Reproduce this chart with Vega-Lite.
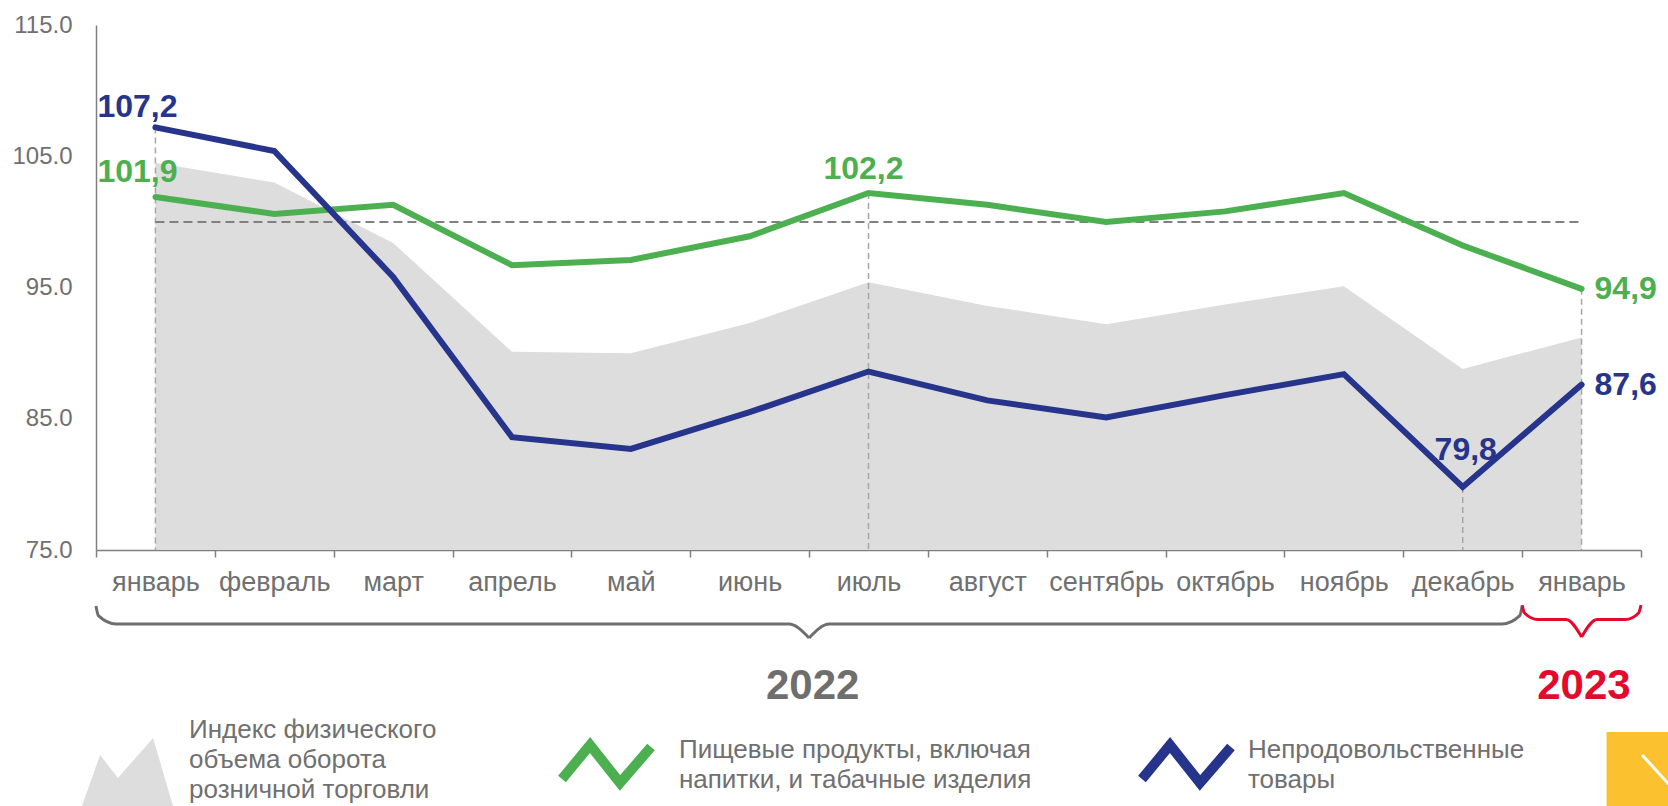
{
  "$schema": "https://vega.github.io/schema/vega-lite/v6.json",
  "width": 1545,
  "height": 525,
  "autosize": {"type": "none"},
  "padding": {"left": 96, "top": 25, "right": 27, "bottom": 256},
  "background": "white",
  "config": {
    "font": "Liberation Sans",
    "view": {"stroke": null},
    "axis": {"grid": false, "title": null, "domainColor": "#7f7f7f", "tickColor": "#7f7f7f", "labelColor": "#707070", "labelFont": "Liberation Sans", "domainWidth": 1.5, "tickWidth": 1.5}
  },
  "datasets": {
    "idx": [
      {"m": "январь 2022", "s": "Индекс физического объема оборота розничной торговли", "v": 104.5},
      {"m": "февраль 2022", "s": "Индекс физического объема оборота розничной торговли", "v": 103.0},
      {"m": "март 2022", "s": "Индекс физического объема оборота розничной торговли", "v": 98.4},
      {"m": "апрель 2022", "s": "Индекс физического объема оборота розничной торговли", "v": 90.1},
      {"m": "май 2022", "s": "Индекс физического объема оборота розничной торговли", "v": 90.0},
      {"m": "июнь 2022", "s": "Индекс физического объема оборота розничной торговли", "v": 92.3},
      {"m": "июль 2022", "s": "Индекс физического объема оборота розничной торговли", "v": 95.4},
      {"m": "август 2022", "s": "Индекс физического объема оборота розничной торговли", "v": 93.6},
      {"m": "сентябрь 2022", "s": "Индекс физического объема оборота розничной торговли", "v": 92.2},
      {"m": "октябрь 2022", "s": "Индекс физического объема оборота розничной торговли", "v": 93.7},
      {"m": "ноябрь 2022", "s": "Индекс физического объема оборота розничной торговли", "v": 95.1},
      {"m": "декабрь 2022", "s": "Индекс физического объема оборота розничной торговли", "v": 88.8},
      {"m": "январь 2023", "s": "Индекс физического объема оборота розничной торговли", "v": 91.2},
      {"m": "январь 2022", "s": "Пищевые продукты, включая напитки, и табачные изделия", "v": 101.9},
      {"m": "февраль 2022", "s": "Пищевые продукты, включая напитки, и табачные изделия", "v": 100.6},
      {"m": "март 2022", "s": "Пищевые продукты, включая напитки, и табачные изделия", "v": 101.3},
      {"m": "апрель 2022", "s": "Пищевые продукты, включая напитки, и табачные изделия", "v": 96.7},
      {"m": "май 2022", "s": "Пищевые продукты, включая напитки, и табачные изделия", "v": 97.1},
      {"m": "июнь 2022", "s": "Пищевые продукты, включая напитки, и табачные изделия", "v": 98.9},
      {"m": "июль 2022", "s": "Пищевые продукты, включая напитки, и табачные изделия", "v": 102.2},
      {"m": "август 2022", "s": "Пищевые продукты, включая напитки, и табачные изделия", "v": 101.3},
      {"m": "сентябрь 2022", "s": "Пищевые продукты, включая напитки, и табачные изделия", "v": 100.0},
      {"m": "октябрь 2022", "s": "Пищевые продукты, включая напитки, и табачные изделия", "v": 100.8},
      {"m": "ноябрь 2022", "s": "Пищевые продукты, включая напитки, и табачные изделия", "v": 102.2},
      {"m": "декабрь 2022", "s": "Пищевые продукты, включая напитки, и табачные изделия", "v": 98.2},
      {"m": "январь 2023", "s": "Пищевые продукты, включая напитки, и табачные изделия", "v": 94.9},
      {"m": "январь 2022", "s": "Непродовольственные товары", "v": 107.2},
      {"m": "февраль 2022", "s": "Непродовольственные товары", "v": 105.4},
      {"m": "март 2022", "s": "Непродовольственные товары", "v": 95.8},
      {"m": "апрель 2022", "s": "Непродовольственные товары", "v": 83.6},
      {"m": "май 2022", "s": "Непродовольственные товары", "v": 82.7},
      {"m": "июнь 2022", "s": "Непродовольственные товары", "v": 85.5},
      {"m": "июль 2022", "s": "Непродовольственные товары", "v": 88.6},
      {"m": "август 2022", "s": "Непродовольственные товары", "v": 86.4},
      {"m": "сентябрь 2022", "s": "Непродовольственные товары", "v": 85.1},
      {"m": "октябрь 2022", "s": "Непродовольственные товары", "v": 86.8},
      {"m": "ноябрь 2022", "s": "Непродовольственные товары", "v": 88.4},
      {"m": "декабрь 2022", "s": "Непродовольственные товары", "v": 79.8},
      {"m": "январь 2023", "s": "Непродовольственные товары", "v": 87.6}
    ],
    "ref": [
      {"m": "январь 2022", "r": 100},
      {"m": "январь 2023", "r": 100}
    ],
    "brace": [
      {"year": "2022", "part": "2022L", "x": 0, "y": 70.73},
      {"year": "2022", "part": "2022L", "x": 0.02, "y": 70.0},
      {"year": "2022", "part": "2022L", "x": 0.17, "y": 69.36},
      {"year": "2022", "part": "2022L", "x": 5.83, "y": 69.36},
      {"year": "2022", "part": "2022L", "x": 6.0, "y": 68.3},
      {"year": "2022", "part": "2022R", "x": 6.0, "y": 68.3},
      {"year": "2022", "part": "2022R", "x": 6.17, "y": 69.36},
      {"year": "2022", "part": "2022R", "x": 11.83, "y": 69.36},
      {"year": "2022", "part": "2022R", "x": 11.98, "y": 70.0},
      {"year": "2022", "part": "2022R", "x": 12.0, "y": 70.73},
      {"year": "2023", "part": "2023L", "x": 12.0, "y": 70.8},
      {"year": "2023", "part": "2023L", "x": 12.02, "y": 70.2},
      {"year": "2023", "part": "2023L", "x": 12.13, "y": 69.7},
      {"year": "2023", "part": "2023L", "x": 12.37, "y": 69.7},
      {"year": "2023", "part": "2023L", "x": 12.5, "y": 68.37},
      {"year": "2023", "part": "2023R", "x": 12.5, "y": 68.37},
      {"year": "2023", "part": "2023R", "x": 12.63, "y": 69.7},
      {"year": "2023", "part": "2023R", "x": 12.87, "y": 69.7},
      {"year": "2023", "part": "2023R", "x": 12.98, "y": 70.2},
      {"year": "2023", "part": "2023R", "x": 13.0, "y": 70.8}
    ],
    "years": [
      {"year": "2022", "x": 6.03, "y": 63.65},
      {"year": "2023", "x": 12.52, "y": 63.65}
    ],
    "legendIcons": [
      {"s": "Индекс физического объема оборота розничной торговли", "x": -0.118, "y": 55.5},
      {"s": "Индекс физического объема оборота розничной торговли", "x": 0.034, "y": 59.38},
      {"s": "Индекс физического объема оборота розничной торговли", "x": 0.185, "y": 57.63},
      {"s": "Индекс физического объема оборота розничной торговли", "x": 0.48, "y": 60.68},
      {"s": "Индекс физического объема оборота розничной торговли", "x": 0.648, "y": 55.5},
      {"s": "Пищевые продукты, включая напитки, и табачные изделия", "x": 3.921, "y": 57.55},
      {"s": "Пищевые продукты, включая напитки, и табачные изделия", "x": 4.157, "y": 60.14},
      {"s": "Пищевые продукты, включая напитки, и табачные изделия", "x": 4.409, "y": 57.25},
      {"s": "Пищевые продукты, включая напитки, и табачные изделия", "x": 4.67, "y": 59.99},
      {"s": "Непродовольственные товары", "x": 8.801, "y": 57.55},
      {"s": "Непродовольственные товары", "x": 9.037, "y": 60.14},
      {"s": "Непродовольственные товары", "x": 9.289, "y": 57.25},
      {"s": "Непродовольственные товары", "x": 9.55, "y": 59.99}
    ],
    "legendText": [
      {"t": "Индекс физического\nобъема оборота\nрозничной торговли", "x": 0.7825, "y": 61.25},
      {"t": "Пищевые продукты, включая\nнапитки, и табачные изделия", "x": 4.905, "y": 59.8},
      {"t": "Непродовольственные\nтовары", "x": 9.693, "y": 59.8}
    ],
    "button": [
      {"x": 12.71, "x2": 13.5, "y": 61.13, "y2": 54.0}
    ],
    "chevron": [
      {"x": 13.01, "y": 59.38},
      {"x": 13.4, "y": 55.5}
    ]
  },
  "resolve": {"scale": {"x": "independent", "y": "independent"}, "axis": {"x": "independent", "y": "independent"}},
  "layer": [
    {
      "layer": [
        {
          "data": {"name": "idx"},
          "transform": [{"filter": "indexof(datum.s, 'Индекс') === 0"}],
          "mark": {"type": "area", "opacity": 1},
          "encoding": {
            "x": {
              "field": "m", "type": "ordinal",
              "scale": {"type": "band", "domain": ["январь 2022", "февраль 2022", "март 2022", "апрель 2022", "май 2022", "июнь 2022", "июль 2022", "август 2022", "сентябрь 2022", "октябрь 2022", "ноябрь 2022", "декабрь 2022", "январь 2023"], "paddingInner": 0, "paddingOuter": 0},
              "bandPosition": 0.5,
              "axis": {"labelExpr": "split(datum.label, ' ')[0]", "tickBand": "extent", "labelAngle": 0, "labelFontSize": 27, "labelPadding": 12, "tickSize": 7, "labelOverlap": false, "labelBaseline": "top"}
            },
            "y": {
              "field": "v", "type": "quantitative",
              "scale": {"domain": [75, 115], "nice": false, "zero": false},
              "axis": {"values": [75, 85, 95, 105, 115], "format": ".1f", "ticks": false, "labelPadding": 24, "labelFontSize": 24}
            },
            "y2": {"datum": 75},
            "color": {
              "field": "s", "type": "nominal",
              "scale": {"domain": ["Индекс физического объема оборота розничной торговли", "Пищевые продукты, включая напитки, и табачные изделия", "Непродовольственные товары"], "range": ["#dddddd", "#4caf50", "#27348b"]},
              "legend": null
            }
          }
        },
        {
          "data": {"name": "idx"},
          "transform": [{"filter": "(datum.m === 'январь 2022' && indexof(datum.s, 'Непрод') === 0) || (datum.m === 'июль 2022' && indexof(datum.s, 'Пищевые') === 0) || (datum.m === 'декабрь 2022' && indexof(datum.s, 'Непрод') === 0) || (datum.m === 'январь 2023' && indexof(datum.s, 'Пищевые') === 0)"}],
          "mark": {"type": "rule", "color": "#a6a6a6", "strokeWidth": 1.5, "strokeDash": [6, 4]},
          "encoding": {
            "x": {"field": "m", "type": "ordinal", "bandPosition": 0.5},
            "y": {"field": "v", "type": "quantitative"},
            "y2": {"datum": 75}
          }
        },
        {
          "data": {"name": "ref"},
          "mark": {"type": "line", "color": "#808080", "strokeWidth": 2, "strokeDash": [9, 5]},
          "encoding": {
            "x": {"field": "m", "type": "ordinal", "bandPosition": 0.5},
            "y": {"field": "r", "type": "quantitative"}
          }
        },
        {
          "data": {"name": "idx"},
          "transform": [{"filter": "indexof(datum.s, 'Индекс') !== 0"}],
          "mark": {"type": "line", "strokeWidth": 6, "strokeCap": "round"},
          "encoding": {
            "x": {"field": "m", "type": "ordinal", "bandPosition": 0.5},
            "y": {"field": "v", "type": "quantitative"},
            "color": {"field": "s", "type": "nominal"}
          }
        },
        {
          "data": {"name": "idx"},
          "transform": [{"filter": "datum.m === 'январь 2022' && indexof(datum.s, 'Непрод') === 0"}],
          "mark": {"type": "text", "fontSize": 32, "fontWeight": "bold", "align": "center", "baseline": "alphabetic", "dx": -18, "dy": -10, "text": {"expr": "replace(format(datum.v, '.1f'), '.', ',')"}},
          "encoding": {
            "x": {"field": "m", "type": "ordinal", "bandPosition": 0.5},
            "y": {"field": "v", "type": "quantitative"},
            "color": {"field": "s", "type": "nominal"}
          }
        },
        {
          "data": {"name": "idx"},
          "transform": [{"filter": "datum.m === 'январь 2022' && indexof(datum.s, 'Пищевые') === 0"}],
          "mark": {"type": "text", "fontSize": 32, "fontWeight": "bold", "align": "center", "baseline": "alphabetic", "dx": -18, "dy": -15, "text": {"expr": "replace(format(datum.v, '.1f'), '.', ',')"}},
          "encoding": {
            "x": {"field": "m", "type": "ordinal", "bandPosition": 0.5},
            "y": {"field": "v", "type": "quantitative"},
            "color": {"field": "s", "type": "nominal"}
          }
        },
        {
          "data": {"name": "idx"},
          "transform": [{"filter": "datum.m === 'июль 2022' && indexof(datum.s, 'Пищевые') === 0"}],
          "mark": {"type": "text", "fontSize": 32, "fontWeight": "bold", "align": "center", "baseline": "alphabetic", "dx": -5, "dy": -14, "text": {"expr": "replace(format(datum.v, '.1f'), '.', ',')"}},
          "encoding": {
            "x": {"field": "m", "type": "ordinal", "bandPosition": 0.5},
            "y": {"field": "v", "type": "quantitative"},
            "color": {"field": "s", "type": "nominal"}
          }
        },
        {
          "data": {"name": "idx"},
          "transform": [{"filter": "datum.m === 'декабрь 2022' && indexof(datum.s, 'Непрод') === 0"}],
          "mark": {"type": "text", "fontSize": 32, "fontWeight": "bold", "align": "center", "baseline": "alphabetic", "dx": 3, "dy": -27, "text": {"expr": "replace(format(datum.v, '.1f'), '.', ',')"}},
          "encoding": {
            "x": {"field": "m", "type": "ordinal", "bandPosition": 0.5},
            "y": {"field": "v", "type": "quantitative"},
            "color": {"field": "s", "type": "nominal"}
          }
        },
        {
          "data": {"name": "idx"},
          "transform": [{"filter": "datum.m === 'январь 2023' && indexof(datum.s, 'Индекс') !== 0"}],
          "mark": {"type": "text", "fontSize": 32, "fontWeight": "bold", "align": "left", "baseline": "middle", "dx": 13, "text": {"expr": "replace(format(datum.v, '.1f'), '.', ',')"}},
          "encoding": {
            "x": {"field": "m", "type": "ordinal", "bandPosition": 0.5},
            "y": {"field": "v", "type": "quantitative"},
            "color": {"field": "s", "type": "nominal"}
          }
        }
      ]
    },
    {
      "layer": [
        {
          "data": {"name": "brace"},
          "mark": {"type": "line", "interpolate": "monotone", "strokeWidth": 3},
          "encoding": {
            "x": {"field": "x", "type": "quantitative", "scale": {"domain": [0, 13], "nice": false, "zero": false}, "axis": null},
            "y": {"field": "y", "type": "quantitative", "scale": {"domain": [75, 115], "nice": false, "zero": false}, "axis": null},
            "detail": {"field": "part"},
            "stroke": {"field": "year", "type": "nominal", "scale": {"domain": ["2022", "2023"], "range": ["#6e6e6e", "#e30a2e"]}, "legend": null}
          }
        },
        {
          "data": {"name": "years"},
          "mark": {"type": "text", "fontSize": 42, "fontWeight": "bold", "align": "center", "baseline": "alphabetic"},
          "encoding": {
            "x": {"field": "x", "type": "quantitative"},
            "y": {"field": "y", "type": "quantitative"},
            "text": {"field": "year"},
            "fill": {"field": "year", "type": "nominal", "scale": {"domain": ["2022", "2023"], "range": ["#6e6e6e", "#e30a2e"]}, "legend": null}
          }
        },
        {
          "data": {"name": "legendIcons"},
          "transform": [{"filter": "indexof(datum.s, 'Индекс') === 0"}],
          "mark": {"type": "area", "opacity": 1},
          "encoding": {
            "x": {"field": "x", "type": "quantitative"},
            "y": {"field": "y", "type": "quantitative"},
            "y2": {"datum": 55.3},
            "color": {"field": "s", "type": "nominal", "legend": null}
          }
        },
        {
          "data": {"name": "legendIcons"},
          "transform": [{"filter": "indexof(datum.s, 'Индекс') !== 0"}],
          "mark": {"type": "line", "strokeWidth": 10, "strokeJoin": "miter", "strokeCap": "butt"},
          "encoding": {
            "x": {"field": "x", "type": "quantitative"},
            "y": {"field": "y", "type": "quantitative"},
            "color": {"field": "s", "type": "nominal", "legend": null}
          }
        },
        {
          "data": {"name": "legendText"},
          "mark": {"type": "text", "fontSize": 26, "color": "#707070", "align": "left", "baseline": "middle", "lineBreak": "\n", "lineHeight": 30},
          "encoding": {
            "x": {"field": "x", "type": "quantitative"},
            "y": {"field": "y", "type": "quantitative"},
            "text": {"field": "t"}
          }
        },
        {
          "data": {"name": "button"},
          "mark": {"type": "rect", "color": "#fcc12e"},
          "encoding": {
            "x": {"field": "x", "type": "quantitative"},
            "x2": {"field": "x2"},
            "y": {"field": "y", "type": "quantitative"},
            "y2": {"field": "y2"}
          }
        },
        {
          "data": {"name": "chevron"},
          "mark": {"type": "line", "color": "white", "strokeWidth": 3},
          "encoding": {
            "x": {"field": "x", "type": "quantitative"},
            "y": {"field": "y", "type": "quantitative"}
          }
        }
      ]
    }
  ]
}
